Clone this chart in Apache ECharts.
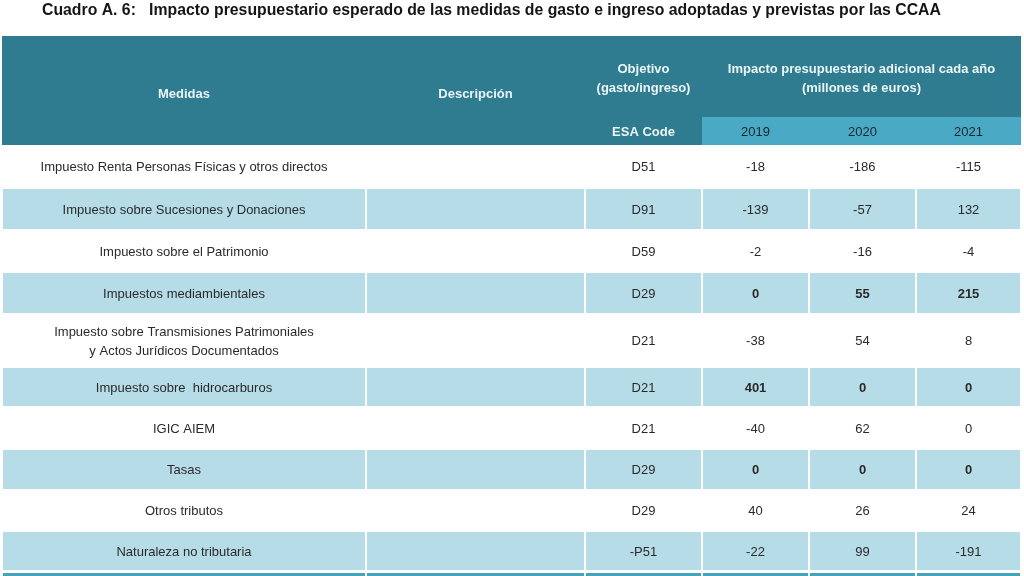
<!DOCTYPE html>
<html>
<head>
<meta charset="utf-8">
<script src="https://cdn.jsdelivr.net/npm/echarts@6/dist/echarts.min.js"></script>
<style>
html,body{margin:0;padding:0;background:#fff;}
#chart{width:1024px;height:576px;}
</style>
</head>
<body>
<div id="chart"></div>
<script>
// ---- data ----
const titleText = 'Cuadro A. 6:   Impacto presupuestario esperado de las medidas de gasto e ingreso adoptadas y previstas por las CCAA';
const headerLabels = ['Medidas', 'Descripción', 'Objetivo\n(gasto/ingreso)', 'Impacto presupuestario adicional cada año\n(millones de euros)'];
const esaHeader = 'ESA Code';
const years = ['2019', '2020', '2021'];
const medidas = [
  'Impuesto Renta Personas Físicas y otros directos',
  'Impuesto sobre Sucesiones y Donaciones',
  'Impuesto sobre el Patrimonio',
  'Impuestos mediambientales',
  'Impuesto sobre Transmisiones Patrimoniales\ny Actos Jurídicos Documentados',
  'Impuesto sobre  hidrocarburos',
  'IGIC AIEM',
  'Tasas',
  'Otros tributos',
  'Naturaleza no tributaria'
];
const descripciones = ['', '', '', '', '', '', '', '', '', ''];
const esaCodes = ['D51', 'D91', 'D59', 'D29', 'D21', 'D21', 'D21', 'D29', 'D29', '-P51'];
const v2019 = [-18, -139, -2, 0, -38, 401, -40, 0, 40, -22];
const v2020 = [-186, -57, -16, 55, 54, 0, 62, 0, 26, 99];
const v2021 = [-115, 132, -4, 215, 8, 0, 0, 0, 24, -191];

// ---- layout / style (table geometry in axis units) ----
const colEdges = [2, 366, 585, 702, 809, 916, 1021];
const headTopH = 81, headSubH = 28;
const rowHeights = [43, 42, 42, 42, 53, 40, 42, 41, 41, 40];
const bandH = 4;
const boldValueRows = [3, 5, 7];

const C = {
  dark: '#2f7b8f', sub: '#4aa9c5', light: '#b6dde7', band: '#46a3bd',
  headText: '#eaf5f8', yearText: '#17272c', body: '#2a2a2a'
};
const FONT = '"Liberation Sans", Arial, sans-serif';

// build cells
const cells = [];
function addCell(x0, y0, x1, y1, fill, text, opt) {
  cells.push(Object.assign({x0, y0, x1, y1, fill, text}, opt || {}));
}
const xMin = colEdges[0], xMax = colEdges[colEdges.length - 1];
const headH = headTopH + headSubH;
// header blocks
addCell(xMin, 0, xMax, headH, C.dark, '', {pad: 0});
addCell(colEdges[3], headTopH, xMax, headH, C.sub, '', {pad: 0});
// header labels
const headBold = {color: C.headText, bold: true, noRect: true};
addCell(colEdges[0], 7, colEdges[1], headH, null, headerLabels[0], headBold);
addCell(colEdges[1], 7, colEdges[2], headH, null, headerLabels[1], headBold);
addCell(colEdges[2], 24, colEdges[3], headTopH - 19, null, headerLabels[2], headBold);
addCell(colEdges[3], 24, colEdges[6], headTopH - 19, null, headerLabels[3], headBold);
addCell(colEdges[2], headTopH + 1, colEdges[3], headH + 1, null, esaHeader, headBold);
years.forEach((y, i) => addCell(colEdges[3 + i], headTopH + 1, colEdges[4 + i], headH + 1, null, y, {color: C.yearText, noRect: true}));

// body rows
let y = headH;
medidas.forEach((m, r) => {
  const h = rowHeights[r];
  const fill = r % 2 === 1 ? C.light : '#ffffff';
  const vals = [m, descripciones[r], esaCodes[r], String(v2019[r]), String(v2020[r]), String(v2021[r])];
  const bv = boldValueRows.indexOf(r) >= 0;
  vals.forEach((t, c) => addCell(colEdges[c], y, colEdges[c + 1], y + h, fill, t, {color: C.body, bold: bv && c >= 3, dy: 1}));
  y += h;
});
// bottom band
for (let c = 0; c < colEdges.length - 1; c++) addCell(colEdges[c], y + 1, colEdges[c + 1], y + 1 + bandH + 1, C.band, '');

const chart = echarts.init(document.getElementById('chart'), null, {renderer: 'canvas'});
chart.setOption({
  animation: false,
  title: {
    text: titleText, left: 37, top: -2,
    textStyle: {fontFamily: FONT, fontSize: 15.8, fontWeight: 'bold', color: '#151515'}
  },
  grid: {left: 0, right: 0, top: 36, bottom: 0},
  xAxis: {type: 'value', min: 0, max: 1024, show: false},
  yAxis: {type: 'value', min: 0, max: 540, inverse: true, show: false},
  series: [{
    type: 'custom',
    coordinateSystem: 'cartesian2d',
    clip: false,
    data: cells.map(c => [c.x0, c.y0, c.x1, c.y1]),
    renderItem: function (params, api) {
      const cell = cells[params.dataIndex];
      const p0 = api.coord([api.value(0), api.value(1)]);
      const p1 = api.coord([api.value(2), api.value(3)]);
      const children = [];
      if (!cell.noRect && cell.fill) {
        const pad = cell.pad === 0 ? 0 : 1;
        children.push({
          type: 'rect',
          shape: {x: p0[0] + pad, y: p0[1] + pad, width: p1[0] - p0[0] - 2 * pad, height: p1[1] - p0[1] - 2 * pad},
          style: {fill: cell.fill}
        });
      }
      if (cell.text) {
        children.push({
          type: 'text',
          style: {
            text: cell.text,
            x: (p0[0] + p1[0]) / 2, y: (p0[1] + p1[1]) / 2 + (cell.dy || 0),
            align: 'center', verticalAlign: 'middle',
            fill: cell.color || C.body,
            fontFamily: FONT,
            fontSize: 13,
            fontWeight: cell.bold ? 'bold' : 'normal',
            lineHeight: 19
          }
        });
      }
      return {type: 'group', children: children};
    }
  }]
});
</script>
</body>
</html>
